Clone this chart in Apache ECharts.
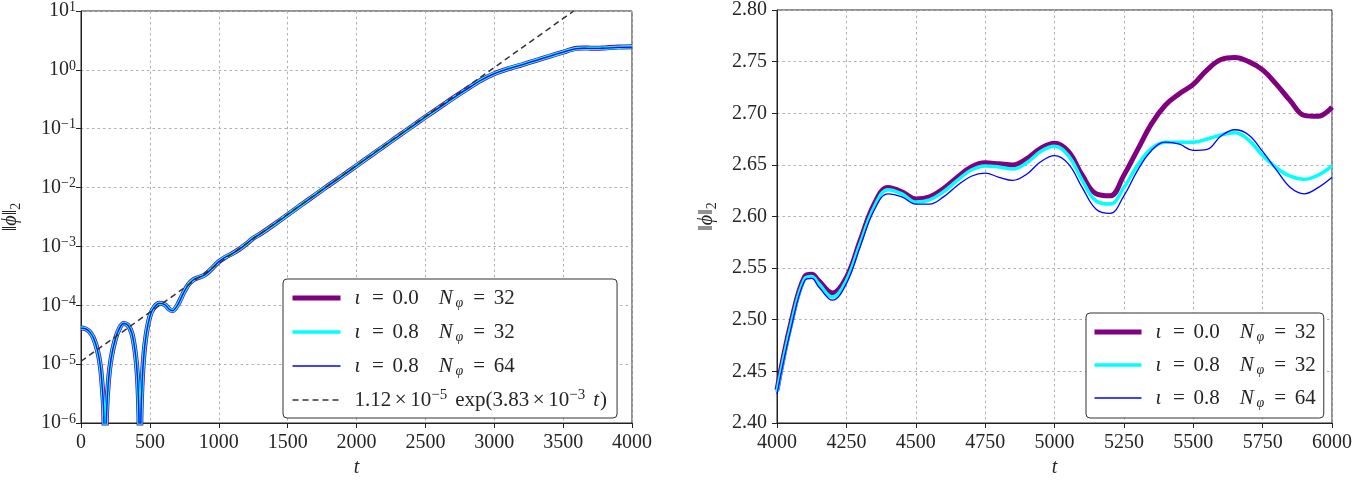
<!DOCTYPE html>
<html><head><meta charset="utf-8">
<script src="https://cdn.jsdelivr.net/npm/echarts@6/dist/echarts.min.js"></script>
<style>html,body{margin:0;padding:0;background:#fff}#c{width:1368px;height:487px}</style>
</head><body><div id="c"></div><script>
// ---------- LEFT PANEL DATA (log scale, t = 0..4000) ----------
const leftT = [0,30,60,90,120,140,155,165,175,185,200,220,250,280,310,340,370,395,410,420,428,436,450,470,500,530,570,610,640,665,700,740,780,820,860,900,950,1000,1050,1100,1150,1200,1250,1300,1400,1500,1600,1700,1800,1900,2000,2100,2200,2300,2400,2500,2600,2700,2800,2900,3000,3100,3200,3300,3400,3500,3550,3600,3650,3700,3750,3800,3900,4000];
const leftPurple = [4.1e-5,4.0e-5,3.6e-5,2.8e-5,1.7e-5,9.5e-6,4.0e-6,1.6e-6,1e-7,1.4e-6,5.5e-6,1.3e-5,2.7e-5,4.1e-5,4.9e-5,4.6e-5,3.3e-5,1.5e-5,6e-6,1.5e-6,1e-7,1.6e-6,9e-6,2.8e-5,6.5e-5,9.2e-5,1.08e-4,1.02e-4,8.6e-5,8.1e-5,1.0e-4,1.55e-4,2.25e-4,2.75e-4,3.0e-4,3.3e-4,4.2e-4,5.5e-4,6.6e-4,7.6e-4,9.0e-4,1.1e-3,1.38e-3,1.62e-3,2.35e-3,3.45e-3,5.1e-3,7.5e-3,1.10e-2,1.60e-2,2.35e-2,3.45e-2,5.05e-2,7.4e-2,0.108,0.158,0.228,0.33,0.47,0.66,0.86,1.04,1.22,1.44,1.70,2.00,2.18,2.32,2.35,2.34,2.33,2.36,2.44,2.48];
const leftCyan   = [4.1e-5,4.0e-5,3.6e-5,2.8e-5,1.7e-5,9.4e-6,3.9e-6,1.5e-6,1e-7,1.4e-6,5.4e-6,1.3e-5,2.7e-5,4.1e-5,4.9e-5,4.6e-5,3.3e-5,1.5e-5,6e-6,1.5e-6,1e-7,1.6e-6,9e-6,2.8e-5,6.5e-5,9.2e-5,1.08e-4,1.02e-4,8.6e-5,8.1e-5,1.0e-4,1.55e-4,2.25e-4,2.75e-4,3.0e-4,3.3e-4,4.2e-4,5.5e-4,6.6e-4,7.6e-4,9.0e-4,1.1e-3,1.38e-3,1.62e-3,2.35e-3,3.45e-3,5.1e-3,7.5e-3,1.10e-2,1.60e-2,2.35e-2,3.45e-2,5.05e-2,7.4e-2,0.108,0.158,0.228,0.33,0.47,0.66,0.86,1.04,1.22,1.44,1.70,2.00,2.17,2.31,2.34,2.33,2.32,2.35,2.42,2.46];
const leftBlue   = [4.1e-5,4.0e-5,3.6e-5,2.8e-5,1.7e-5,9.4e-6,3.9e-6,1.5e-6,1e-7,1.4e-6,5.4e-6,1.3e-5,2.7e-5,4.1e-5,4.9e-5,4.6e-5,3.3e-5,1.5e-5,6e-6,1.5e-6,1e-7,1.6e-6,9e-6,2.8e-5,6.5e-5,9.2e-5,1.08e-4,1.02e-4,8.6e-5,8.1e-5,1.0e-4,1.55e-4,2.25e-4,2.75e-4,3.0e-4,3.3e-4,4.2e-4,5.5e-4,6.6e-4,7.6e-4,9.0e-4,1.1e-3,1.38e-3,1.62e-3,2.35e-3,3.45e-3,5.1e-3,7.5e-3,1.10e-2,1.60e-2,2.35e-2,3.45e-2,5.05e-2,7.4e-2,0.108,0.158,0.228,0.33,0.47,0.66,0.86,1.04,1.22,1.44,1.70,2.00,2.17,2.30,2.33,2.32,2.31,2.34,2.41,2.44];
// fitted exponential 1.12e-5 exp(3.83e-3 t): straight on a log axis, two end points
const fitT = [0, 3577];
const fitV = [1.12e-5, 10];

// ---------- RIGHT PANEL DATA (t = 4000..6000) ----------
const rightT = [4000,4050,4100,4125,4150,4200,4250,4300,4350,4400,4450,4500,4550,4600,4650,4700,4750,4800,4850,4900,4950,5000,5050,5100,5150,5200,5250,5300,5350,5400,5450,5500,5550,5600,5650,5700,5750,5800,5850,5900,5950,6000];
const rightPurple = [2.432,2.497,2.542,2.544,2.538,2.526,2.541,2.577,2.612,2.628,2.624,2.617,2.619,2.627,2.638,2.648,2.652,2.651,2.650,2.656,2.666,2.671,2.663,2.640,2.622,2.620,2.640,2.665,2.690,2.708,2.719,2.728,2.742,2.752,2.754,2.750,2.742,2.728,2.712,2.698,2.697,2.706];
const rightCyan   = [2.430,2.494,2.540,2.542,2.535,2.522,2.538,2.574,2.609,2.626,2.622,2.614,2.616,2.624,2.635,2.645,2.649,2.648,2.646,2.652,2.663,2.668,2.659,2.635,2.615,2.612,2.628,2.650,2.666,2.672,2.672,2.672,2.675,2.679,2.681,2.674,2.659,2.647,2.639,2.636,2.640,2.649];
const rightBlue   = [2.428,2.491,2.538,2.540,2.532,2.519,2.535,2.571,2.606,2.622,2.619,2.612,2.612,2.619,2.630,2.639,2.642,2.638,2.635,2.641,2.653,2.659,2.651,2.628,2.607,2.603,2.620,2.645,2.664,2.672,2.670,2.664,2.665,2.678,2.684,2.679,2.663,2.645,2.628,2.622,2.628,2.638];

const leftXTicks = {min:0, max:4000, step:500};
const rightXTicks = {min:4000, max:6000, step:250};
const rightYTicks = {min:2.40, max:2.80, step:0.05};

const FONT = '"Liberation Serif","DejaVu Serif",serif';
const TXT = '#262626';
const PURPLE = '#800080', CYAN = '#00ffff', BLUE = '#0000ff', FITC = '#333333';
const W_P = 5, W_C = 3.5, W_B = 1.3;
const zip = (a,b) => a.map((v,i)=>[v,b[i]]);

const rowA = (a,n) => '{io|ι}{eq|=}' + a + '{q| }{i|N}{sub|φ}{eq|=}' + n;
const legendText = {
  L0: rowA('0.0','32'), L1: rowA('0.8','32'), L2: rowA('0.8','64'),
  LF: '1.12{x|×}10{sup|−5}{sp| }exp(3.83{x|×}10{sup|−3}{sp| }{i|t})',
  R0: rowA('0.0','32'), R1: rowA('0.8','32'), R2: rowA('0.8','64')
};
const LF_SIZE = 21;
const legendRich = {
  io: {fontFamily: FONT, fontStyle:'italic', fontSize:LF_SIZE, color:TXT, width:9},
  i: {fontFamily: FONT, fontStyle:'italic', fontSize:LF_SIZE, color:TXT, padding:[0,1,0,0]},
  eq: {fontFamily: FONT, fontSize:LF_SIZE, color:TXT, width:29, align:'center'},
  q: {width:20},
  x: {fontFamily: FONT, fontSize:LF_SIZE, color:TXT, width:19, align:'center'},
  sp: {width:8},
  sub: {fontFamily: FONT, fontStyle:'italic', fontSize:14, color:TXT, verticalAlign:'bottom', lineHeight:24, width:11},
  sup: {fontFamily: FONT, fontSize:15, color:TXT, verticalAlign:'top', lineHeight:24}
};

const gridLine = {show:true, lineStyle:{color:'#b0b0b0', type:[2.5,3], width:1}};
const axisLine = {show:true, onZero:false, lineStyle:{color:'#222', width:1}};
const axisTick = {show:true, length:5, lineStyle:{color:'#222'}};
const lblBase = {fontFamily:FONT, fontSize:20, color:TXT};

function logLabel(v){
  const e = Math.round(Math.log10(v));
  return '{b|10}{s|' + (e < 0 ? '−' + (-e) : e) + '}';
}
const nameRich = {
  n: {fontFamily:FONT, fontSize:20, color:TXT, fontStyle:'italic'},
  s: {fontFamily:FONT, fontSize:14, color:TXT, verticalAlign:'bottom', lineHeight:24}
};
const legendCommon = {
  orient:'vertical', itemHeight:14, backgroundColor:'#fff', borderColor:'#333', borderWidth:1, borderRadius:4,
  itemStyle:{opacity:0}, formatter:n=>legendText[n],
  textStyle:{fontFamily:FONT, fontSize:LF_SIZE, color:TXT, lineHeight:22, padding:[0,0,0,9], rich:legendRich}
};
const legItem = (name, color, width, type) => ({name, lineStyle:{color, width, type:type||'solid'}});

const chart = echarts.init(document.getElementById('c'));
chart.setOption({
  animation:false,
  backgroundColor:'#fff',
  grid:[
    {left:78, top:9, width:554, height:414, show:true, borderColor:'#222', borderWidth:1, backgroundColor:'transparent'},
    {left:777, top:9, width:555, height:414, show:true, borderColor:'#222', borderWidth:1, backgroundColor:'transparent'}
  ],
  xAxis:[
    {type:'value', gridIndex:0, min:leftXTicks.min, max:leftXTicks.max, interval:leftXTicks.step,
     axisLine, axisTick, splitLine:gridLine, axisLabel:{...lblBase, margin:10, formatter:v=>String(v)},
     name:'t', nameLocation:'middle', nameGap:34, nameTextStyle:{fontFamily:FONT, fontStyle:'italic', fontSize:20, color:TXT}},
    {type:'value', gridIndex:1, min:rightXTicks.min, max:rightXTicks.max, interval:rightXTicks.step,
     axisLine, axisTick, splitLine:gridLine, axisLabel:{...lblBase, margin:10, formatter:v=>String(v)},
     name:'t', nameLocation:'middle', nameGap:34, nameTextStyle:{fontFamily:FONT, fontStyle:'italic', fontSize:20, color:TXT}}
  ],
  yAxis:[
    {type:'log', gridIndex:0, logBase:10, min:1e-6, max:10, interval:1,
     axisLine, axisTick, splitLine:gridLine,
     axisLabel:{margin:5, formatter:logLabel, rich:{
       b:{fontFamily:FONT, fontSize:20, color:TXT, lineHeight:22},
       s:{fontFamily:FONT, fontSize:14, color:TXT, verticalAlign:'top', lineHeight:22}}},
     name:'{n|‖ϕ‖}{s|2}', nameLocation:'middle', nameRotate:90, nameGap:58, nameTextStyle:{rich:nameRich}},
    {type:'value', gridIndex:1, min:rightYTicks.min, max:rightYTicks.max, interval:rightYTicks.step,
     axisLine, axisTick, splitLine:gridLine,
     axisLabel:{...lblBase, margin:10, formatter:v=>v.toFixed(2)},
     name:'{n|‖ϕ‖}{s|2}', nameLocation:'middle', nameRotate:90, nameGap:58, nameTextStyle:{rich:nameRich}}
  ],
  legend:[
    {...legendCommon, data:[legItem('L0',PURPLE,W_P), legItem('L1',CYAN,W_C), legItem('L2',BLUE,W_B), legItem('LF',FITC,1.5,[6,4])],
     left:283, top:279, itemWidth:48, itemGap:10, padding:[7,10,6,7]},
    {...legendCommon, data:[legItem('R0',PURPLE,W_P), legItem('R1',CYAN,W_C), legItem('R2',BLUE,W_B)],
     left:1086, top:313, itemWidth:47, itemGap:9, padding:[7,8,8,6]}
  ],
  series:[
    {name:'L0', type:'line', xAxisIndex:0, yAxisIndex:0, data:zip(leftT,leftPurple), smooth:0.3, symbol:'none', lineStyle:{color:PURPLE, width:W_P}, itemStyle:{color:PURPLE}, clip:true},
    {name:'L1', type:'line', xAxisIndex:0, yAxisIndex:0, data:zip(leftT,leftCyan), smooth:0.3, symbol:'none', lineStyle:{color:CYAN, width:W_C}, itemStyle:{color:CYAN}, clip:true},
    {name:'L2', type:'line', xAxisIndex:0, yAxisIndex:0, data:zip(leftT,leftBlue), smooth:0.3, symbol:'none', lineStyle:{color:BLUE, width:W_B}, itemStyle:{color:BLUE}, clip:true},
    {name:'LF', type:'line', xAxisIndex:0, yAxisIndex:0, data:zip(fitT,fitV), symbol:'none', lineStyle:{color:FITC, width:1.5, type:[6,4]}, itemStyle:{color:FITC}, clip:true},
    {name:'R0', type:'line', xAxisIndex:1, yAxisIndex:1, data:zip(rightT,rightPurple), smooth:0.4, symbol:'none', lineStyle:{color:PURPLE, width:W_P}, itemStyle:{color:PURPLE}},
    {name:'R1', type:'line', xAxisIndex:1, yAxisIndex:1, data:zip(rightT,rightCyan), smooth:0.4, symbol:'none', lineStyle:{color:CYAN, width:W_C}, itemStyle:{color:CYAN}},
    {name:'R2', type:'line', xAxisIndex:1, yAxisIndex:1, data:zip(rightT,rightBlue), smooth:0.4, symbol:'none', lineStyle:{color:BLUE, width:W_B}, itemStyle:{color:BLUE}}
  ]
});
</script></body></html>
